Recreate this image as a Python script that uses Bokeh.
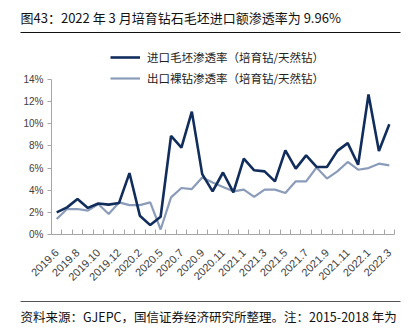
from bokeh.plotting import figure
from bokeh.models import (Range1d, FixedTicker, PrintfTickFormatter, Legend, LegendItem,
                          Label, ColumnDataSource)
from bokeh.embed import file_html
from bokeh.resources import INLINE
import math

months = ["2019.6", "2019.7", "2019.8", "2019.9", "2019.10", "2019.11", "2019.12",
          "2020.1", "2020.2", "2020.3", "2020.5", "2020.6", "2020.7", "2020.8",
          "2020.9", "2020.10", "2020.11", "2020.12", "2021.1", "2021.2", "2021.3",
          "2021.4", "2021.5", "2021.6", "2021.7", "2021.8", "2021.9", "2021.10",
          "2021.11", "2021.12", "2022.1", "2022.2", "2022.3"]
import_rough = [2.0, 2.45, 3.2, 2.4, 2.8, 2.7, 2.85, 5.55, 1.7, 0.85, 1.6, 8.9, 7.85,
                11.1, 5.45, 3.9, 5.6, 3.8, 6.85, 5.8, 5.7, 4.8, 7.6, 5.95, 7.15, 6.1,
                6.1, 7.55, 8.25, 6.3, 12.65, 7.55, 9.96]
export_polished = [1.4, 2.3, 2.3, 2.15, 2.75, 1.85, 2.9, 2.65, 2.65, 2.9, 0.45, 3.35,
                   4.2, 4.1, 5.15, 4.7, 4.3, 3.9, 4.05, 3.4, 4.05, 4.05, 3.75, 4.8,
                   4.8, 6.05, 5.05, 5.7, 6.55, 5.85, 6.0, 6.4, 6.25]
y_ticks = [0, 2, 4, 6, 8, 10, 12, 14]
name_import = "进口毛坯渗透率（培育钻/天然钻）"
name_export = "出口裸钻渗透率（培育钻/天然钻）"
title_text = "图43：2022 年 3 月培育钻石毛坯进口额渗透率为 9.96%"
source_text = "资料来源：GJEPC，国信证券经济研究所整理。注：2015-2018 年为"

W, H = 415, 328
# plot area (in canvas px) that the axes span; the frame itself covers the whole canvas
AL, AR, AT, AB = 51, 394, 79, 234

n = len(months)
ymax = y_ticks[-1]
xppu = (AR - AL) / n
yppu = (AB - AT) / ymax
x0 = -AL / xppu
x1 = n + (W - AR) / xppu
y0 = -(H - AB) / yppu
y1 = AB / yppu


def sx(cx):   # canvas x -> screen x (frame == canvas)
    return cx


def sy(cy):   # canvas y -> screen y measured up from bottom
    return H - cy


def dx(cx):   # canvas x -> data x (for decorative rules only)
    return x0 + cx / xppu


def dy(cy):   # canvas y -> data y (for decorative rules only)
    return y1 - cy / yppu


xs = [i + 0.5 for i in range(n)]
src = ColumnDataSource(dict(x=xs, imp=import_rough, exp=export_polished))

p = figure(width=W, height=H, output_backend="svg", toolbar_location=None,
           x_range=Range1d(x0, x1), y_range=Range1d(y0, y1),
           min_border=0, outline_line_color=None,
           background_fill_color="white", border_fill_color="white")
p.xgrid.visible = False
p.ygrid.visible = False

dark = "#112d5c"
light = "#8a9cb9"
r_exp = p.line("x", "exp", source=src, line_color=light, line_width=2.2)
r_imp = p.line("x", "imp", source=src, line_color=dark, line_width=2.6)

# separator rules under title and above source note
p.segment(x0=[dx(20), dx(20)], y0=[dy(32), dy(301)], x1=[dx(400), dx(400)],
          y1=[dy(32), dy(301)], line_color=["#111111", "#555555"], line_width=1)

axis_color = "#a6a6a6"
lab_font = "Liberation Sans"
# y axis
ya = p.yaxis[0]
ya.fixed_location = 0
ya.bounds = (0, ymax)
ya.ticker = FixedTicker(ticks=y_ticks)
ya.formatter = PrintfTickFormatter(format="%d%%")
ya.axis_line_color = axis_color
ya.major_tick_line_color = axis_color
ya.major_tick_in = 0
ya.major_tick_out = 4
ya.minor_tick_line_color = None
ya.major_label_text_font = lab_font
ya.major_label_text_font_size = "10px"
ya.major_label_text_color = "#404040"
ya.major_label_standoff = 4

# x axis
xa = p.xaxis[0]
xa.fixed_location = 0
xa.bounds = (0, n)
major = [xs[i] for i in range(0, n, 2)]
xa.ticker = FixedTicker(ticks=major, minor_ticks=list(range(n + 1)))
xa.major_label_overrides = {xs[i]: months[i] for i in range(0, n, 2)}
xa.axis_line_color = axis_color
xa.major_tick_line_color = None
xa.minor_tick_line_color = axis_color
xa.minor_tick_in = 5
xa.minor_tick_out = 0
xa.major_label_orientation = math.pi / 4
xa.major_label_text_font = lab_font
xa.major_label_text_font_size = "11px"
xa.major_label_text_color = "#404040"
xa.major_label_standoff = 10

# legend
leg = Legend(items=[LegendItem(label=name_import, renderers=[r_imp]),
                    LegendItem(label=name_export, renderers=[r_exp])],
             location=(sx(110), sy(86)), orientation="vertical",
             glyph_width=30, glyph_height=14, label_height=14, spacing=5,
             label_standoff=7, padding=0, margin=0, border_line_color=None,
             background_fill_alpha=0, label_text_font="Noto Sans CJK SC",
             label_text_font_size="11.5px", label_text_color="#222222")
p.add_layout(leg, "center")

# title, footer text
cjk = "Noto Sans CJK SC"
p.add_layout(Label(x=sx(20), y=sy(17), x_units="screen", y_units="screen", text=title_text,
                   text_font=cjk, text_font_size="13px", text_color="#111111",
                   text_baseline="middle", text_align="left"))
p.add_layout(Label(x=sx(20), y=sy(316), x_units="screen", y_units="screen", text=source_text,
                   text_font=cjk, text_font_size="12.5px", text_color="#111111",
                   text_baseline="middle", text_align="left"))

open("out.html", "w").write(file_html(p, INLINE))
